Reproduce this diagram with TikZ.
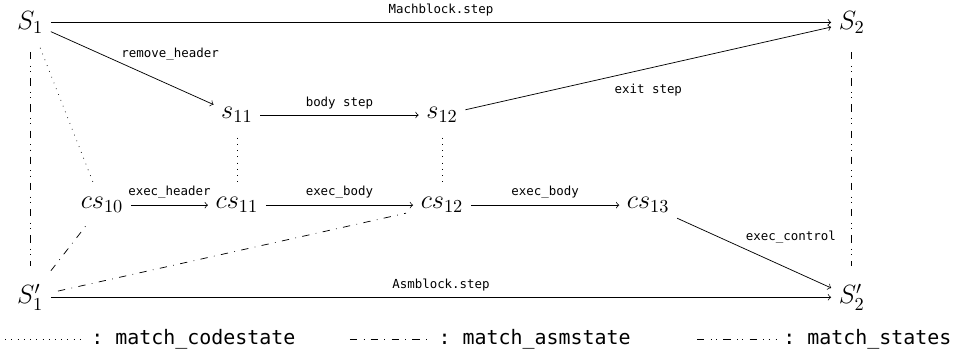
\documentclass[tikz,border=0pt]{standalone}
\usepackage{fontspec}
\setmonofont{DejaVu Sans Mono}
\usepackage{amsmath}

\begin{document}
\begin{tikzpicture}[
        stnode/.style={font=\Large, inner sep=4pt},
        lbl/.style={font=\ttfamily\fontsize{6.8}{8}\selectfont},
        legendtxt/.style={font=\ttfamily\fontsize{10.9}{13}\selectfont, right},
        codestate/.style={dash pattern=on 0.4pt off 3pt},
        asmstate/.style={dash pattern=on 4pt off 3.5pt on 0.4pt off 3.5pt},
        allstates/.style={dash pattern=on 4pt off 3.5pt on 0.4pt off 2.5pt on 0.4pt off 3.5pt},
        gap/.style={shorten <=4pt, shorten >=4pt}
    ]
        \useasboundingbox (0,0) rectangle (18.4,6.84);

        % abstract states (top) and assembly states (bottom)
        \node[stnode] (S1) at (0.58,6.41) {$S_1$};
        \node[stnode] (S2) at (16.36,6.41) {$S_2$};
        \node[stnode] (S1p) at (0.58,1.13) {$S'_1$};
        \node[stnode] (S2p) at (16.36,1.13) {$S'_2$};

        % intermediate states
        \node[stnode] (s11) at (4.55,4.63) {$s_{11}$};
        \node[stnode] (s12) at (8.49,4.63) {$s_{12}$};

        % code states
        \node[stnode] (cs10) at (1.96,2.90) {$cs_{10}$};
        \node[stnode] (cs11) at (4.55,2.90) {$cs_{11}$};
        \node[stnode] (cs12) at (8.49,2.90) {$cs_{12}$};
        \node[stnode] (cs13) at (12.45,2.90) {$cs_{13}$};

        % steps
        \draw[->] (S1) -- node[lbl, above] {Machblock.step} (S2);
        \draw[->] (S1) -- node[lbl, pos=0.42, above right, inner sep=1pt] {remove\_header} (s11);
        \draw[->] (s11) -- node[lbl, above] {body step} (s12);
        \draw[->] (s12) -- node[lbl, midway, below=5pt] {exit step} (S2);
        \draw[->] (cs10) -- node[lbl, above] {exec\_header} (cs11);
        \draw[->] (cs11) -- node[lbl, above] {exec\_body} (cs12);
        \draw[->] (cs12) -- node[lbl, above] {exec\_body} (cs13);
        \draw[->] (cs13) -- node[lbl, pos=0.42, above right, inner sep=2pt] {exec\_control} (S2p);
        \draw[->] (S1p) -- node[lbl, above] {Asmblock.step} (S2p);

        % matching relations
        \draw[codestate, gap] (S1) -- (cs10);
        \draw[codestate, gap] (s11) -- (cs11);
        \draw[codestate, gap] (s12) -- (cs12);
        \draw[asmstate, gap] (S1p) -- (cs10);
        \draw[asmstate, gap] (S1p) -- (cs12);
        \draw[allstates, shorten <=6pt, shorten >=6pt] (S1) -- (S1p);
        \draw[allstates, shorten <=6pt, shorten >=6pt] (S2) -- (S2p);

        % legend
        \coordinate (la) at (0.10,0.33);
        \coordinate (lb) at (1.63,0.33);
        \coordinate (lc) at (6.72,0.33);
        \coordinate (ld) at (8.30,0.33);
        \coordinate (le) at (13.39,0.33);
        \coordinate (lf) at (14.92,0.33);
        \draw[codestate] (la) -- (lb) node[legendtxt] {: match\_codestate};
        \draw[asmstate] (lc) -- (ld) node[legendtxt] {: match\_asmstate};
        \draw[allstates] (le) -- (lf) node[legendtxt] {: match\_states};
    \end{tikzpicture}
\end{document}
